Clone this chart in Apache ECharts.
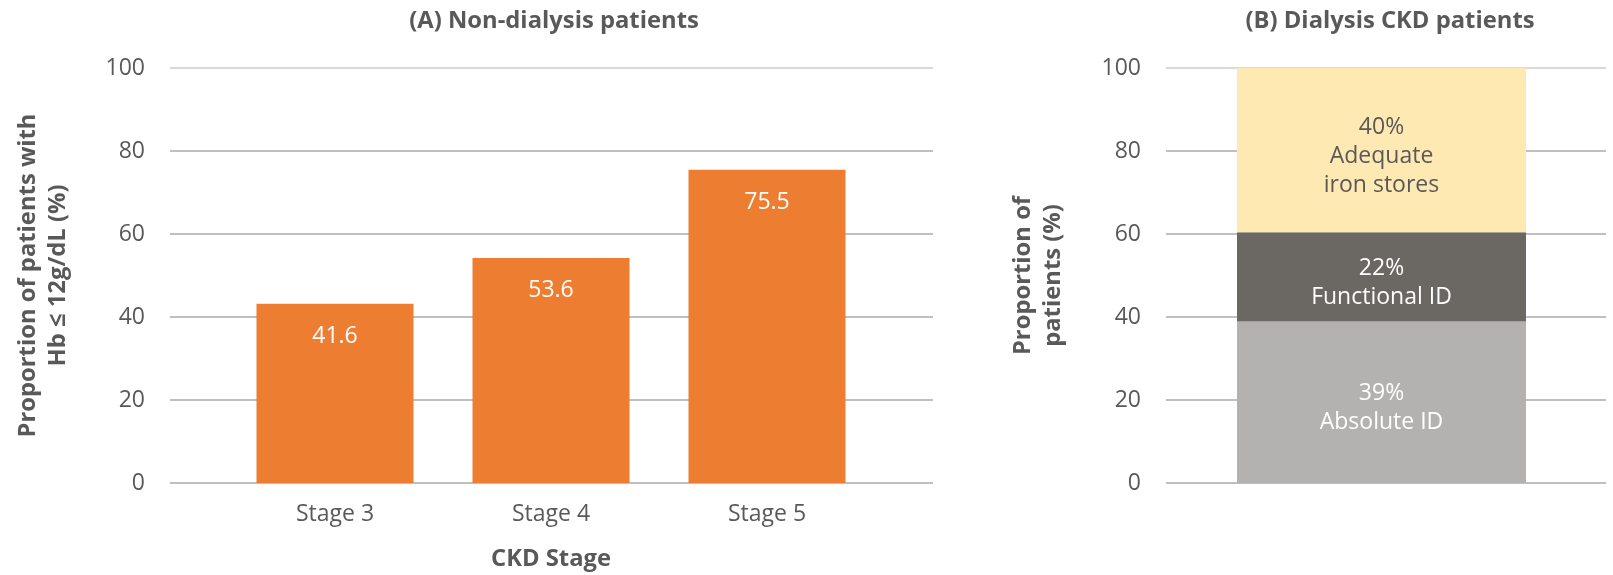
<!DOCTYPE html>
<html>
<head>
<meta charset="utf-8">
<script src="https://cdn.jsdelivr.net/npm/echarts@6/dist/echarts.min.js"></script>
<style>
html,body{margin:0;padding:0;background:#fff;}
#chart{width:1613px;height:575px;}
</style>
</head>
<body>
<div id="chart"></div>
<script>
// ---- data ----
const categories = ['Stage 3', 'Stage 4', 'Stage 5'];
const stageHeights = [43.2, 54.2, 75.5];
const stageLabels = ['41.6', '53.6', '75.5'];
const yMin = 0, yMax = 100, yStep = 20;
const dialysisCategory = ['Dialysis CKD'];
const dialysisSegments = ['Absolute ID', 'Functional ID', 'Adequate\niron stores'];
const dialysisValues = [38.9, 21.5, 39.6];
const dialysisLabels = ['39%', '22%', '40%'];
const titleA = '(A) Non-dialysis patients';
const titleB = '(B) Dialysis CKD patients';
const yNameA = 'Proportion of patients with\nHb \u2264 12g/dL (%)';
const yNameB = 'Proportion of\npatients (%)';
const xNameA = 'CKD Stage';

// ---- styles ----
const FONT = 'Open Sans';
const TXT = '#595959';
const BOLD_SIZE = 23.8;
const GRID_COLOR = ['#bfbfbf', '#bfbfbf', '#bfbfbf', '#bfbfbf', '#bfbfbf', '#d9d9d9'];
const segColors = ['#b3b2b0', '#6b6762', '#ffe9b2'];
const segText = ['#ffffff', '#ffffff', TXT];

const chart = echarts.init(document.getElementById('chart'), null, {renderer: 'canvas'});

function gridAxis(gridIndex, name, gap) {
  return {
    type: 'value', gridIndex, min: yMin, max: yMax, interval: yStep,
    axisLine: {show: false}, axisTick: {show: false},
    axisLabel: {color: TXT, fontSize: 23, fontFamily: FONT, margin: 25},
    splitLine: {show: true, lineStyle: {color: GRID_COLOR, width: 2}},
    name, nameLocation: 'middle', nameGap: gap, nameRotate: 90,
    nameTextStyle: {color: TXT, fontSize: BOLD_SIZE, fontWeight: 'bold', fontFamily: FONT, lineHeight: 30, align: 'center'}
  };
}
function hiddenY(gridIndex) {
  return {type: 'value', gridIndex, min: yMin, max: yMax, interval: yStep, show: false, splitLine: {show: false}};
}
function grid(left, width) {
  return {left, top: 68, width, height: 415, containLabel: false, outerBoundsMode: 'none'};
}

const option = {
  backgroundColor: '#ffffff',
  animation: false,
  textStyle: {fontFamily: FONT},
  title: [
    {text: titleA, left: 549, top: 4, textAlign: 'center',
     textStyle: {color: TXT, fontSize: BOLD_SIZE, fontWeight: 'bold', fontFamily: FONT}},
    {text: titleB, left: 1385, top: 4, textAlign: 'center',
     textStyle: {color: TXT, fontSize: BOLD_SIZE, fontWeight: 'bold', fontFamily: FONT}}
  ],
  grid: [grid(170, 763), grid(227, 648), grid(1166, 440), grid(1237, 289)],
  xAxis: [
    {type: 'value', gridIndex: 0, show: false, min: 0, max: 1, splitLine: {show: false}},
    {type: 'category', gridIndex: 1, data: categories,
     axisLine: {show: false}, axisTick: {show: false},
     axisLabel: {color: TXT, fontSize: 23, fontFamily: FONT, margin: 20},
     name: xNameA, nameLocation: 'middle', nameGap: 64,
     nameTextStyle: {color: TXT, fontSize: BOLD_SIZE, fontWeight: 'bold', fontFamily: FONT}},
    {type: 'value', gridIndex: 2, show: false, min: 0, max: 1, splitLine: {show: false}},
    {type: 'category', gridIndex: 3, data: dialysisCategory, show: false}
  ],
  yAxis: [
    gridAxis(0, yNameA, 97),
    hiddenY(1),
    gridAxis(2, yNameB, 98),
    hiddenY(3)
  ],
  series: [
    {
      type: 'bar', xAxisIndex: 1, yAxisIndex: 1, data: stageHeights, barWidth: 157,
      itemStyle: {color: '#ed7d31'},
      label: {show: true, position: 'insideTop', distance: 21, color: '#ffffff', fontSize: 23, fontFamily: FONT,
              formatter: p => stageLabels[p.dataIndex]}
    }
  ].concat(dialysisValues.map((v, i) => ({
    type: 'bar', xAxisIndex: 3, yAxisIndex: 3, stack: 'dialysis', barWidth: '100%',
    name: dialysisSegments[i], data: [v],
    itemStyle: {color: segColors[i]},
    label: {show: true, position: 'inside', offset: [0, 6], color: segText[i], fontSize: 23, fontFamily: FONT, lineHeight: 29,
            formatter: () => dialysisLabels[i] + '\n' + dialysisSegments[i]}
  })))
};
chart.setOption(option);
</script>
</body>
</html>
